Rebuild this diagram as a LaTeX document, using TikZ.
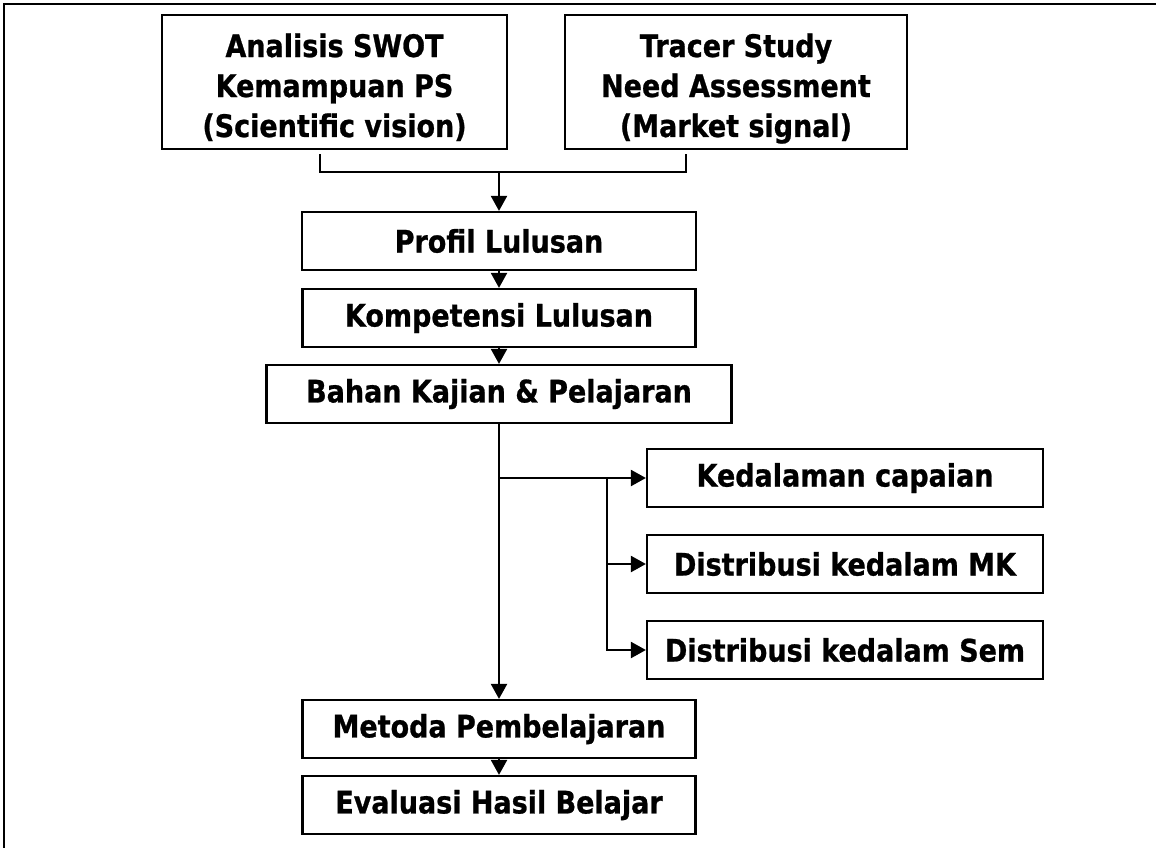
\documentclass[tikz,border=0pt]{standalone}
\usepackage{fontspec}
\setmainfont{DejaVu Sans}[FakeStretch=0.87, FakeBold=0.8]
\usetikzlibrary{arrows.meta}

\begin{document}
\begin{tikzpicture}[x=1pt, y=-1pt, line width=2.2pt,
  font=\fontsize{31}{40}\selectfont\bfseries,
  box/.style={draw, align=center, inner sep=0pt},
  bigbox/.style={box, minimum height=134pt, text height=110pt, text depth=0pt},
  arr/.style={-{Triangle[length=15pt, width=16pt]}}]
  \useasboundingbox (0,0) rectangle (1156,848);
  \draw (4,848) -- (4,4) -- (1156,4);
  % sources
  \node[bigbox, minimum width=345pt] (swot) at (334.5,82) {Analisis SWOT\\Kemampuan PS\\(Scientific vision)};
  \node[bigbox, minimum width=342pt] (tracer) at (736,82) {Tracer Study\\Need Assessment\\(Market signal)};
  % main column
  \node[box, minimum width=394pt, minimum height=58pt] (profil) at (499,241) {Profil Lulusan};
  \node[box, minimum width=393pt, minimum height=58pt] (kompetensi) at (499,318) {Kompetensi Lulusan};
  \node[box, minimum width=465pt, minimum height=58pt] (bahan) at (499,394) {Bahan Kajian \& Pelajaran};
  \node[box, minimum width=393pt, minimum height=58pt] (metoda) at (499,729) {Metoda Pembelajaran};
  \node[box, minimum width=393pt, minimum height=58pt] (evaluasi) at (499,805) {Evaluasi Hasil Belajar};
  % side boxes
  \node[box, minimum width=396pt, minimum height=58pt] (kedalaman) at (845,478) {Kedalaman capaian};
  \node[box, minimum width=396pt, minimum height=58pt] (distmk) at (845,564) {Distribusi kedalam MK};
  \node[box, minimum width=396pt, minimum height=58pt] (distsem) at (845,650) {Distribusi kedalam Sem};
  % bracket
  \coordinate (tickl) at (320,154);
  \coordinate (tickr) at (686,154);
  \coordinate (join) at (499,172);
  \draw (tickl) |- (join) -| (tickr);
  \draw[arr] (join) -- (profil);
  \draw[arr] (profil) -- (kompetensi);
  \draw[arr] (kompetensi) -- (bahan);
  \draw[arr] (bahan) -- (metoda);
  \draw[arr] (metoda) -- (evaluasi);
  % branch
  \coordinate (split) at (499,478);
  \coordinate (fork) at (607,478);
  \draw[arr] (split) -- (kedalaman);
  \draw[arr] (fork) |- (distmk);
  \draw[arr] (fork) |- (distsem);
\end{tikzpicture}
\end{document}
